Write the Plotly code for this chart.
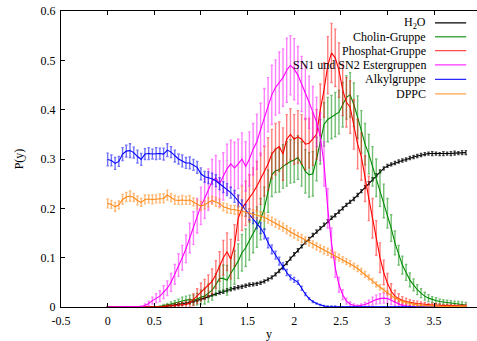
import plotly.graph_objects as go

# Bin centres along the membrane normal
y_bins = [
    0.00, 0.04, 0.08, 0.12, 0.16, 0.20, 0.24, 0.28, 0.32, 0.36,
    0.40, 0.44, 0.48, 0.52, 0.56, 0.60, 0.64, 0.68, 0.72, 0.76,
    0.80, 0.84, 0.88, 0.92, 0.96, 1.00, 1.04, 1.08, 1.12, 1.16,
    1.20, 1.24, 1.28, 1.32, 1.36, 1.40, 1.44, 1.48, 1.52, 1.56,
    1.60, 1.64, 1.68, 1.72, 1.76, 1.80, 1.84, 1.88, 1.92, 1.96,
    2.00, 2.04, 2.08, 2.12, 2.16, 2.20, 2.24, 2.28, 2.32, 2.36,
    2.40, 2.44, 2.48, 2.52, 2.56, 2.60, 2.64, 2.68, 2.72, 2.76,
    2.80, 2.84, 2.88, 2.92, 2.96, 3.00, 3.04, 3.08, 3.12, 3.16,
    3.20, 3.24, 3.28, 3.32, 3.36, 3.40, 3.44, 3.48, 3.52, 3.56,
    3.60, 3.64, 3.68, 3.72, 3.76, 3.80, 3.84,
]

h2o = [
    0, 0, 0, 0, 0, 0, 0, 0, 0, 0,
    0, 0, 0, 0, 0, 0.001, 0.002, 0.003, 0.004, 0.005,
    0.006, 0.007, 0.009, 0.011, 0.013, 0.016, 0.018, 0.021, 0.024, 0.026,
    0.029, 0.031, 0.034, 0.036, 0.038, 0.040, 0.041, 0.043, 0.045, 0.046,
    0.047, 0.049, 0.052, 0.056, 0.060, 0.066, 0.073, 0.081, 0.089, 0.098,
    0.107, 0.115, 0.123, 0.131, 0.138, 0.146, 0.153, 0.160, 0.167, 0.174,
    0.181, 0.186, 0.193, 0.200, 0.207, 0.213, 0.219, 0.227, 0.235, 0.243,
    0.251, 0.259, 0.267, 0.275, 0.281, 0.286, 0.289, 0.292, 0.295, 0.297,
    0.299, 0.302, 0.304, 0.306, 0.308, 0.310, 0.311, 0.311, 0.311, 0.310,
    0.311, 0.311, 0.311, 0.312, 0.312, 0.313, 0.313,
]
h2o_err = [
    0, 0, 0, 0, 0, 0, 0, 0, 0, 0,
    0, 0, 0, 0, 0, 0.001, 0.001, 0.001, 0.002, 0.002,
    0.002, 0.002, 0.002, 0.002, 0.002, 0.002, 0.002, 0.002, 0.002, 0.002,
    0.003, 0.003, 0.003, 0.003, 0.003, 0.003, 0.003, 0.003, 0.003, 0.003,
    0.003, 0.003, 0.003, 0.003, 0.003, 0.003, 0.003, 0.003, 0.003, 0.003,
    0.003, 0.003, 0.003, 0.003, 0.003, 0.003, 0.003, 0.003, 0.003, 0.003,
    0.003, 0.003, 0.003, 0.003, 0.003, 0.003, 0.003, 0.003, 0.003, 0.003,
    0.003, 0.003, 0.003, 0.003, 0.003, 0.003, 0.003, 0.003, 0.003, 0.003,
    0.003, 0.003, 0.003, 0.003, 0.003, 0.003, 0.003, 0.004, 0.003, 0.003,
    0.004, 0.003, 0.004, 0.004, 0.003, 0.004, 0.004,
]

cholin = [
    0, 0, 0, 0, 0, 0, 0, 0, 0, 0,
    0, 0, 0, 0, 0.001, 0.003, 0.004, 0.006, 0.008, 0.010,
    0.013, 0.014, 0.015, 0.014, 0.016, 0.020, 0.022, 0.028, 0.034, 0.045,
    0.058, 0.058, 0.054, 0.068, 0.080, 0.093, 0.110, 0.120, 0.135, 0.150,
    0.162, 0.178, 0.200, 0.235, 0.268, 0.276, 0.278, 0.285, 0.290, 0.295,
    0.298, 0.303, 0.290, 0.275, 0.268, 0.270, 0.300, 0.335, 0.370, 0.380,
    0.385, 0.390, 0.395, 0.410, 0.425, 0.430, 0.410, 0.385, 0.355, 0.330,
    0.310, 0.285, 0.262, 0.240, 0.215, 0.190, 0.160, 0.130, 0.105, 0.085,
    0.070, 0.055, 0.045, 0.035, 0.028, 0.022, 0.018, 0.015, 0.013, 0.011,
    0.010, 0.009, 0.008, 0.007, 0.006, 0.005, 0.004,
]
cholin_err = [
    0, 0, 0, 0, 0, 0, 0, 0, 0, 0,
    0, 0, 0, 0, 0.001, 0.002, 0.003, 0.004, 0.005, 0.006,
    0.007, 0.008, 0.009, 0.010, 0.012, 0.014, 0.016, 0.018, 0.020, 0.022,
    0.025, 0.027, 0.030, 0.032, 0.034, 0.035, 0.037, 0.038, 0.040, 0.040,
    0.041, 0.042, 0.043, 0.043, 0.044, 0.044, 0.045, 0.044, 0.045, 0.044,
    0.045, 0.044, 0.045, 0.044, 0.045, 0.045, 0.044, 0.045, 0.044, 0.045,
    0.044, 0.045, 0.044, 0.045, 0.044, 0.045, 0.044, 0.043, 0.043, 0.042,
    0.040, 0.040, 0.038, 0.036, 0.034, 0.030, 0.027, 0.024, 0.020, 0.018,
    0.016, 0.014, 0.012, 0.010, 0.009, 0.008, 0.007, 0.006, 0.006, 0.005,
    0.005, 0.005, 0.005, 0.005, 0.005, 0.005, 0.005,
]

phosphat = [
    0, 0, 0, 0, 0, 0, 0, 0, 0, 0,
    0, 0, 0, 0, 0, 0.001, 0.002, 0.002, 0.003, 0.004,
    0.004, 0.005, 0.008, 0.015, 0.022, 0.030, 0.036, 0.043, 0.052, 0.066,
    0.082, 0.100, 0.112, 0.097, 0.125, 0.180, 0.200, 0.210, 0.220, 0.232,
    0.245, 0.260, 0.275, 0.290, 0.310, 0.320, 0.325, 0.310, 0.340, 0.350,
    0.340, 0.345, 0.340, 0.330, 0.332, 0.340, 0.350, 0.400, 0.440, 0.490,
    0.515, 0.505, 0.480, 0.440, 0.415, 0.405, 0.370, 0.330, 0.305, 0.260,
    0.220, 0.180, 0.140, 0.100, 0.070, 0.048, 0.032, 0.022, 0.017, 0.013,
    0.011, 0.009, 0.008, 0.007, 0.006, 0.005, 0.004, 0.004, 0.004, 0.003,
    0.003, 0.003, 0.003, 0.002, 0.002, 0.002, 0.002,
]
phosphat_err = [
    0, 0, 0, 0, 0, 0, 0, 0, 0, 0,
    0, 0, 0, 0, 0, 0.001, 0.002, 0.002, 0.003, 0.004,
    0.005, 0.006, 0.008, 0.012, 0.015, 0.018, 0.020, 0.022, 0.025, 0.028,
    0.030, 0.035, 0.038, 0.040, 0.042, 0.045, 0.045, 0.045, 0.048, 0.050,
    0.050, 0.052, 0.050, 0.053, 0.050, 0.052, 0.050, 0.053, 0.050, 0.052,
    0.050, 0.053, 0.050, 0.052, 0.050, 0.053, 0.050, 0.052, 0.055, 0.058,
    0.060, 0.058, 0.055, 0.052, 0.050, 0.053, 0.050, 0.050, 0.048, 0.046,
    0.045, 0.040, 0.035, 0.030, 0.025, 0.020, 0.015, 0.012, 0.010, 0.008,
    0.007, 0.006, 0.005, 0.005, 0.004, 0.004, 0.003, 0.003, 0.003, 0.003,
    0.002, 0.002, 0.002, 0.002, 0.002, 0.002, 0.002,
]

ester = [
    0, 0, 0, 0, 0, 0, 0, 0, 0, 0.001,
    0.003, 0.007, 0.013, 0.018, 0.022, 0.030, 0.038, 0.050, 0.066, 0.085,
    0.100, 0.118, 0.140, 0.160, 0.185, 0.205, 0.220, 0.238, 0.255, 0.262,
    0.250, 0.265, 0.280, 0.290, 0.282, 0.290, 0.300, 0.285, 0.300, 0.320,
    0.335, 0.360, 0.385, 0.410, 0.430, 0.445, 0.455, 0.465, 0.480, 0.490,
    0.482, 0.470, 0.452, 0.435, 0.415, 0.395, 0.375, 0.345, 0.290, 0.200,
    0.130, 0.080, 0.045, 0.025, 0.012, 0.006, 0.003, 0.002, 0.003, 0.005,
    0.008, 0.012, 0.015, 0.017, 0.018, 0.017, 0.014, 0.010, 0.006, 0.003,
    0.002, 0.001, 0, 0, 0, 0, 0, 0, 0, 0,
    0, 0, 0, 0, 0, 0, 0,
]
ester_err = [
    0, 0, 0, 0, 0, 0, 0, 0, 0, 0.001,
    0.003, 0.005, 0.007, 0.009, 0.011, 0.013, 0.015, 0.018, 0.020, 0.023,
    0.025, 0.028, 0.030, 0.033, 0.035, 0.038, 0.040, 0.042, 0.044, 0.045,
    0.046, 0.048, 0.050, 0.048, 0.052, 0.050, 0.053, 0.050, 0.055, 0.052,
    0.056, 0.053, 0.058, 0.055, 0.060, 0.056, 0.062, 0.058, 0.065, 0.060,
    0.062, 0.058, 0.056, 0.055, 0.053, 0.052, 0.050, 0.048, 0.045, 0.040,
    0.030, 0.020, 0.015, 0.010, 0.006, 0.004, 0.003, 0.002, 0.003, 0.004,
    0.006, 0.008, 0.009, 0.010, 0.010, 0.010, 0.009, 0.007, 0.005, 0.003,
    0.002, 0.001, 0, 0, 0, 0, 0, 0, 0, 0,
    0, 0, 0, 0, 0, 0, 0,
]

alkyl = [
    0.299, 0.297, 0.291, 0.295, 0.310, 0.316, 0.317, 0.313, 0.305, 0.299,
    0.310, 0.311, 0.310, 0.311, 0.311, 0.310, 0.318, 0.314, 0.306, 0.300,
    0.296, 0.292, 0.292, 0.288, 0.283, 0.270, 0.264, 0.262, 0.260, 0.256,
    0.250, 0.243, 0.238, 0.232, 0.224, 0.215, 0.206, 0.196, 0.188, 0.180,
    0.170, 0.160, 0.148, 0.130, 0.117, 0.105, 0.093, 0.083, 0.070, 0.060,
    0.055, 0.050, 0.038, 0.026, 0.017, 0.011, 0.007, 0.004, 0.002, 0.001,
    0.001, 0.001, 0, 0, 0, 0, 0, 0, 0, 0,
    0, 0, 0, 0, 0, 0, 0, 0, 0, 0,
    0, 0, 0, 0, 0, 0, 0, 0, 0, 0,
    0, 0, 0, 0, 0, 0, 0,
]
alkyl_err = [
    0.013, 0.011, 0.012, 0.010, 0.013, 0.012, 0.014, 0.011, 0.013, 0.012,
    0.011, 0.012, 0.010, 0.012, 0.011, 0.012, 0.013, 0.011, 0.012, 0.010,
    0.012, 0.011, 0.012, 0.011, 0.012, 0.012, 0.011, 0.012, 0.011, 0.012,
    0.012, 0.011, 0.012, 0.011, 0.012, 0.012, 0.011, 0.012, 0.011, 0.011,
    0.011, 0.011, 0.010, 0.010, 0.009, 0.008, 0.008, 0.007, 0.006, 0.005,
    0.005, 0.004, 0.004, 0.003, 0.002, 0.002, 0.001, 0.001, 0.001, 0.001,
    0.001, 0.001, 0, 0, 0, 0, 0, 0, 0, 0,
    0, 0, 0, 0, 0, 0, 0, 0, 0, 0,
    0, 0, 0, 0, 0, 0, 0, 0, 0, 0,
    0, 0, 0, 0, 0, 0, 0,
]

dppc = [
    0.210, 0.208, 0.203, 0.207, 0.218, 0.223, 0.225, 0.222, 0.216, 0.212,
    0.218, 0.219, 0.218, 0.219, 0.220, 0.220, 0.227, 0.222, 0.217, 0.216,
    0.217, 0.216, 0.217, 0.213, 0.208, 0.205, 0.207, 0.212, 0.216, 0.213,
    0.210, 0.203, 0.200, 0.198, 0.197, 0.196, 0.194, 0.192, 0.190, 0.189,
    0.187, 0.185, 0.182, 0.178, 0.174, 0.170, 0.166, 0.162, 0.157, 0.152,
    0.148, 0.143, 0.139, 0.135, 0.131, 0.127, 0.123, 0.119, 0.115, 0.112,
    0.108, 0.104, 0.100, 0.096, 0.092, 0.088, 0.083, 0.078, 0.072, 0.066,
    0.060, 0.053, 0.046, 0.040, 0.034, 0.028, 0.023, 0.018, 0.014, 0.011,
    0.009, 0.007, 0.005, 0.004, 0.003, 0.003, 0.002, 0.002, 0.002, 0.001,
    0.001, 0.001, 0.001, 0.001, 0.001, 0.001, 0.001,
]
dppc_err = [
    0.009, 0.008, 0.009, 0.008, 0.010, 0.009, 0.010, 0.008, 0.009, 0.008,
    0.009, 0.008, 0.009, 0.008, 0.009, 0.009, 0.010, 0.008, 0.009, 0.008,
    0.009, 0.008, 0.009, 0.008, 0.009, 0.009, 0.008, 0.009, 0.008, 0.009,
    0.009, 0.008, 0.009, 0.008, 0.009, 0.008, 0.009, 0.008, 0.009, 0.008,
    0.008, 0.008, 0.008, 0.008, 0.008, 0.008, 0.008, 0.008, 0.008, 0.008,
    0.008, 0.008, 0.008, 0.007, 0.007, 0.007, 0.007, 0.007, 0.007, 0.007,
    0.007, 0.007, 0.007, 0.006, 0.006, 0.006, 0.006, 0.006, 0.006, 0.006,
    0.005, 0.005, 0.005, 0.005, 0.004, 0.004, 0.004, 0.003, 0.003, 0.003,
    0.002, 0.002, 0.002, 0.002, 0.001, 0.001, 0.001, 0.001, 0.001, 0.001,
    0.001, 0.001, 0.001, 0.001, 0.001, 0.001, 0.001,
]

series_names = ["H<sub>2</sub>O", "Cholin-Gruppe", "Phosphat-Gruppe",
                "SN1 und SN2 Estergruppen", "Alkylgruppe", "DPPC"]
series_values = [h2o, cholin, phosphat, ester, alkyl, dppc]
series_errors = [h2o_err, cholin_err, phosphat_err, ester_err, alkyl_err, dppc_err]

line_colors = ["#000000", "#008a00", "#ff0000", "#ff00ff", "#0000ff", "#ff8a1a"]
bar_colors = ["rgba(0,0,0,0.75)", "rgba(0,138,0,0.55)", "rgba(255,0,0,0.5)",
              "rgba(255,0,255,0.5)", "rgba(0,0,255,0.55)", "rgba(255,138,26,0.6)"]
key_colors = ["#000000", "#4aa84a", "#ff4a4a", "#ff33ff", "#2a2aff", "#ffa050"]

FONT = "Liberation Serif, Times New Roman, serif"

fig = go.Figure()
for name, vals, errs, lc, bc in zip(series_names, series_values, series_errors,
                                    line_colors, bar_colors):
    fig.add_trace(go.Scatter(
        x=y_bins, y=vals, name=name, mode="lines",
        line=dict(color=lc, width=1.1),
        error_y=dict(type="data", array=errs, visible=True,
                     color=bc, thickness=1.4, width=1.2),
        showlegend=False,
    ))

# gnuplot-style key: right-aligned text followed by a line sample
key_y = [0.960, 0.913, 0.866, 0.818, 0.769, 0.720]
for name, kc, ky in zip(series_names, key_colors, key_y):
    fig.add_annotation(x=0.882, y=ky, xref="paper", yref="paper",
                       text=name, showarrow=False, xanchor="right",
                       yanchor="middle", font=dict(family=FONT, size=12,
                                                   color="#000000"))
    fig.add_shape(type="line", xref="paper", yref="paper",
                  x0=0.899, x1=0.974, y0=ky, y1=ky,
                  line=dict(color=kc, width=1.3))

x_ticks = [-0.5, 0, 0.5, 1, 1.5, 2, 2.5, 3, 3.5]
x_tick_text = ["-0.5", "0", "0.5", "1", "1.5", "2", "2.5", "3", "3.5"]
y_ticks = [0, 0.1, 0.2, 0.3, 0.4, 0.5, 0.6]
y_tick_text = ["0", "0.1", "0.2", "0.3", "0.4", "0.5", "0.6"]

fig.update_layout(
    width=477, height=341,
    margin=dict(l=61, r=0, t=11, b=34),
    paper_bgcolor="white", plot_bgcolor="white",
    font=dict(family=FONT, size=12, color="#000000"),
    xaxis=dict(range=[-0.5, 3.96], tickvals=x_ticks, ticktext=x_tick_text,
               ticks="inside", ticklen=4, tickcolor="#000000",
               showline=True, linecolor="#000000", linewidth=1.2,
               mirror="ticks", showgrid=False, zeroline=False,
               ticklabelstandoff=2,
               title=dict(text="y", standoff=4, font=dict(size=12))),
    yaxis=dict(range=[0, 0.6], tickvals=y_ticks, ticktext=y_tick_text,
               ticks="inside", ticklen=4, tickcolor="#000000",
               showline=True, linecolor="#000000", linewidth=1.2,
               showgrid=False, zeroline=False, ticklabelstandoff=2,
               title=dict(text="P(y)", standoff=14, font=dict(size=12))),
)

fig.write_html("out.html")
